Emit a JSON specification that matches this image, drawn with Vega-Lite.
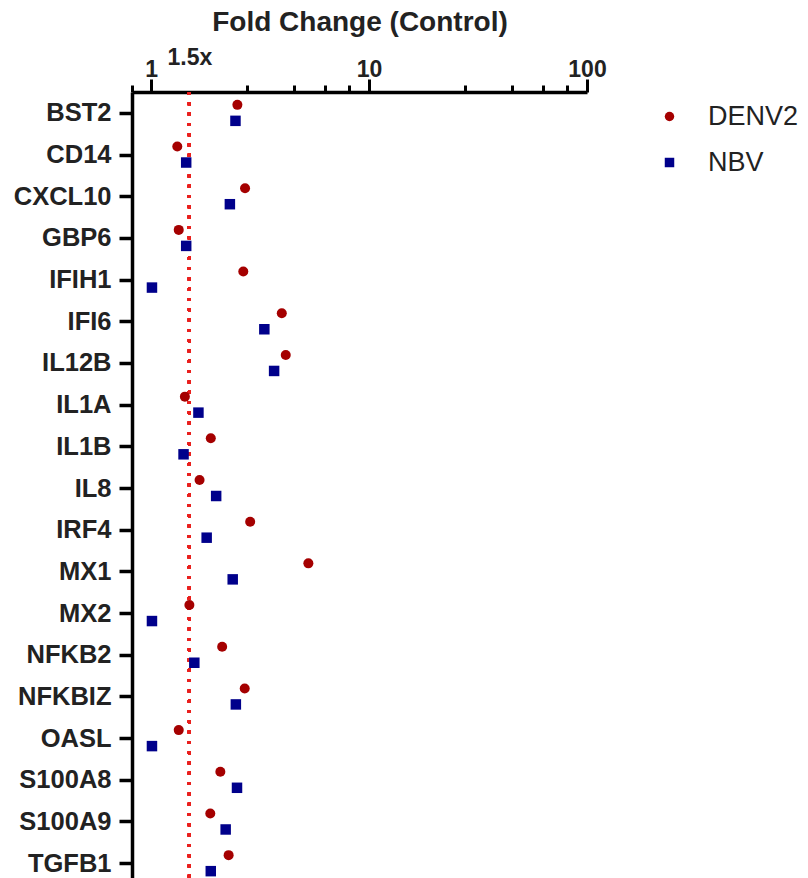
{
  "$schema": "https://vega.github.io/schema/vega-lite/v6.json",
  "autosize": {"type": "none"},
  "padding": {"left": 132, "top": 92, "right": 221, "bottom": 0},
  "width": 455,
  "height": 792,
  "background": "white",
  "data": {
    "values": [
      {"gene": "BST2", "group": "DENV2", "value": 2.49},
      {"gene": "BST2", "group": "NBV", "value": 2.44},
      {"gene": "CD14", "group": "DENV2", "value": 1.32},
      {"gene": "CD14", "group": "NBV", "value": 1.45},
      {"gene": "CXCL10", "group": "DENV2", "value": 2.7},
      {"gene": "CXCL10", "group": "NBV", "value": 2.3},
      {"gene": "GBP6", "group": "DENV2", "value": 1.34},
      {"gene": "GBP6", "group": "NBV", "value": 1.45},
      {"gene": "IFIH1", "group": "DENV2", "value": 2.65},
      {"gene": "IFIH1", "group": "NBV", "value": 1.01},
      {"gene": "IFI6", "group": "DENV2", "value": 3.98},
      {"gene": "IFI6", "group": "NBV", "value": 3.31},
      {"gene": "IL12B", "group": "DENV2", "value": 4.15},
      {"gene": "IL12B", "group": "NBV", "value": 3.67},
      {"gene": "IL1A", "group": "DENV2", "value": 1.43},
      {"gene": "IL1A", "group": "NBV", "value": 1.65},
      {"gene": "IL1B", "group": "DENV2", "value": 1.88},
      {"gene": "IL1B", "group": "NBV", "value": 1.41},
      {"gene": "IL8", "group": "DENV2", "value": 1.67},
      {"gene": "IL8", "group": "NBV", "value": 1.99},
      {"gene": "IRF4", "group": "DENV2", "value": 2.85},
      {"gene": "IRF4", "group": "NBV", "value": 1.8},
      {"gene": "MX1", "group": "DENV2", "value": 5.27},
      {"gene": "MX1", "group": "NBV", "value": 2.37},
      {"gene": "MX2", "group": "DENV2", "value": 1.5},
      {"gene": "MX2", "group": "NBV", "value": 1.01},
      {"gene": "NFKB2", "group": "DENV2", "value": 2.12},
      {"gene": "NFKB2", "group": "NBV", "value": 1.58},
      {"gene": "NFKBIZ", "group": "DENV2", "value": 2.69},
      {"gene": "NFKBIZ", "group": "NBV", "value": 2.45},
      {"gene": "OASL", "group": "DENV2", "value": 1.34},
      {"gene": "OASL", "group": "NBV", "value": 1.01},
      {"gene": "S100A8", "group": "DENV2", "value": 2.08},
      {"gene": "S100A8", "group": "NBV", "value": 2.48},
      {"gene": "S100A9", "group": "DENV2", "value": 1.87},
      {"gene": "S100A9", "group": "NBV", "value": 2.2},
      {"gene": "TGFB1", "group": "DENV2", "value": 2.27},
      {"gene": "TGFB1", "group": "NBV", "value": 1.88}
    ]
  },
  "encoding": {
    "x": {
      "field": "value",
      "type": "quantitative",
      "scale": {"type": "log", "domain": [0.818, 100], "nice": false},
      "axis": {
        "orient": "top",
        "title": "Fold Change (Control)",
        "titleFont": "Liberation Sans",
        "titleFontSize": 28,
        "titleFontWeight": "bold",
        "titleColor": "#222222",
        "titlePadding": 10,
        "values": [0.818, 1, 1.5, 2.75, 4.55, 6.3, 8.1, 10, 27.5, 45.5, 63, 81, 100],
        "labelExpr": "datum.value == 1 ? '1' : datum.value == 10 ? '10' : datum.value == 100 ? '100' : datum.value == 1.5 ? '1.5x' : ''",
        "labelFont": "Liberation Sans",
        "labelFontSize": 23,
        "labelFontWeight": "bold",
        "labelColor": "#222222",
        "labelFlush": false,
        "labelOverlap": false,
        "labelBound": false,
        "labelPadding": {"condition": {"test": "datum.value == 1.5", "value": 16}, "value": -2},
        "tickSize": {"condition": {"test": "datum.value == 1 || datum.value == 10 || datum.value == 100", "value": 13}, "value": 7},
        "tickOpacity": {"condition": {"test": "datum.value == 1.5", "value": 0}, "value": 1},
        "tickWidth": 3,
        "tickColor": "black",
        "domainColor": "black",
        "domainWidth": 3.5,
        "grid": false
      }
    },
    "y": {
      "field": "gene",
      "type": "nominal",
      "scale": {
        "type": "point",
        "padding": 0.5,
        "domain": ["BST2", "CD14", "CXCL10", "GBP6", "IFIH1", "IFI6", "IL12B", "IL1A", "IL1B", "IL8", "IRF4", "MX1", "MX2", "NFKB2", "NFKBIZ", "OASL", "S100A8", "S100A9", "TGFB1"]
      },
      "axis": {
        "title": null,
        "labelFont": "Liberation Sans",
        "labelFontSize": 25.5,
        "labelFontWeight": "bold",
        "labelColor": "#222222",
        "labelPadding": 8,
        "tickSize": 13,
        "tickWidth": 3.5,
        "tickColor": "black",
        "domainColor": "black",
        "domainWidth": 3.5,
        "grid": false
      }
    }
  },
  "layer": [
    {
      "mark": {"type": "rule", "color": "#E8201E", "strokeWidth": 3, "strokeDash": [3, 7.3]},
      "encoding": {"x": {"datum": 1.5}, "y": null}
    },
    {
      "transform": [{"filter": "datum.group == 'DENV2'"}],
      "mark": {"type": "point", "filled": true, "opacity": 1, "size": 100, "yOffset": -8},
      "encoding": {
        "color": {"field": "group", "type": "nominal", "scale": {"domain": ["DENV2", "NBV"], "range": ["#A50000", "#00008B"]}},
        "shape": {"field": "group", "type": "nominal", "scale": {"domain": ["DENV2", "NBV"], "range": ["circle", "square"]}}
      }
    },
    {
      "transform": [{"filter": "datum.group == 'NBV'"}],
      "mark": {"type": "point", "filled": true, "opacity": 1, "size": 110, "yOffset": 8},
      "encoding": {
        "color": {"field": "group", "type": "nominal"},
        "shape": {"field": "group", "type": "nominal"}
      }
    }
  ],
  "resolve": {"scale": {"color": "shared", "shape": "shared"}},
  "config": {
    "view": {"stroke": null},
    "font": "Liberation Sans",
    "legend": {
      "title": null,
      "orient": "right",
      "offset": 58,
      "padding": 11,
      "symbolSize": 90,
      "symbolStrokeWidth": 0,
      "symbolOpacity": 1,
      "labelFont": "Liberation Sans",
      "labelFontSize": 27,
      "labelColor": "#222222",
      "labelOffset": 25,
      "rowPadding": 18
    }
  }
}
